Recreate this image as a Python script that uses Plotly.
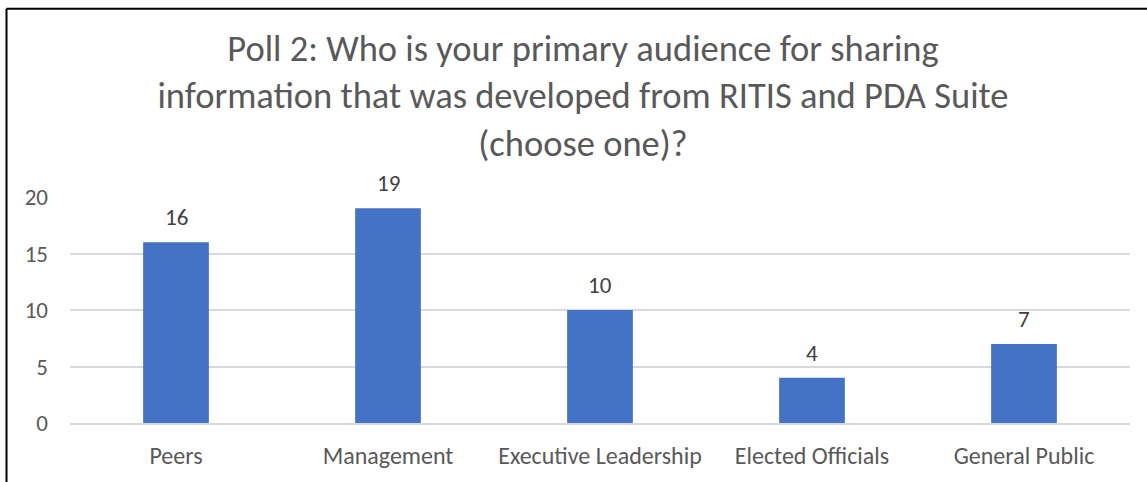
import plotly.graph_objects as go

categories = ["Peers", "Management", "Executive Leadership", "Elected Officials", "General Public"]
values = [16, 19, 10, 4, 7]
y_ticks = [0, 5, 10, 15, 20]
title_text = "Poll 2: Who is your primary audience for sharing<br>information that was developed from RITIS and PDA Suite<br>(choose one)?"

FONT = "Carlito, Lato, 'Open Sans', sans-serif"

fig = go.Figure()
fig.add_trace(go.Bar(
    x=categories, y=values,
    marker=dict(color="#4472C4", line=dict(width=0)),
    hoverinfo="x+y",
))

for c, v in zip(categories, values):
    fig.add_annotation(x=c, y=v, text=str(v), showarrow=False,
                       yanchor="bottom", yshift=9,
                       font=dict(family=FONT, size=23, color="#404040"))

# chart border (left and top edges visible in the reference)
fig.add_shape(type="line", xref="paper", yref="paper",
              x0=-0.0599, x1=-0.0599, y0=-0.5, y1=1.833,
              line=dict(color="black", width=2))
fig.add_shape(type="line", xref="paper", yref="paper",
              x0=-0.0599, x1=1.2, y0=1.833, y1=1.833,
              line=dict(color="black", width=2))

fig.update_layout(
    width=1147, height=482,
    margin=dict(l=70, r=17, t=197, b=57),
    paper_bgcolor="white", plot_bgcolor="white",
    bargap=0.69,
    showlegend=False,
    title=dict(text=title_text, x=583/1147, xanchor="center",
               y=1 - 61/482, yanchor="top", yref="container",
               font=dict(family=FONT, size=36.5, color="#595959")),
    font=dict(family=FONT, color="#595959"),
)
fig.update_xaxes(showgrid=False, showline=True, linecolor="#d9d9d9", linewidth=1.5,
                 ticks="", tickfont=dict(family=FONT, size=24, color="#595959"),
                 ticklabelstandoff=10, fixedrange=True)
fig.update_yaxes(range=[0, 20], tickvals=y_ticks, showgrid=True, gridcolor="#d9d9d9",
                 gridwidth=1.5, zeroline=False, showline=False, ticks="",
                 tickfont=dict(family=FONT, size=23, color="#595959"),
                 ticklabelstandoff=21, fixedrange=True)

fig.write_html("out.html")
